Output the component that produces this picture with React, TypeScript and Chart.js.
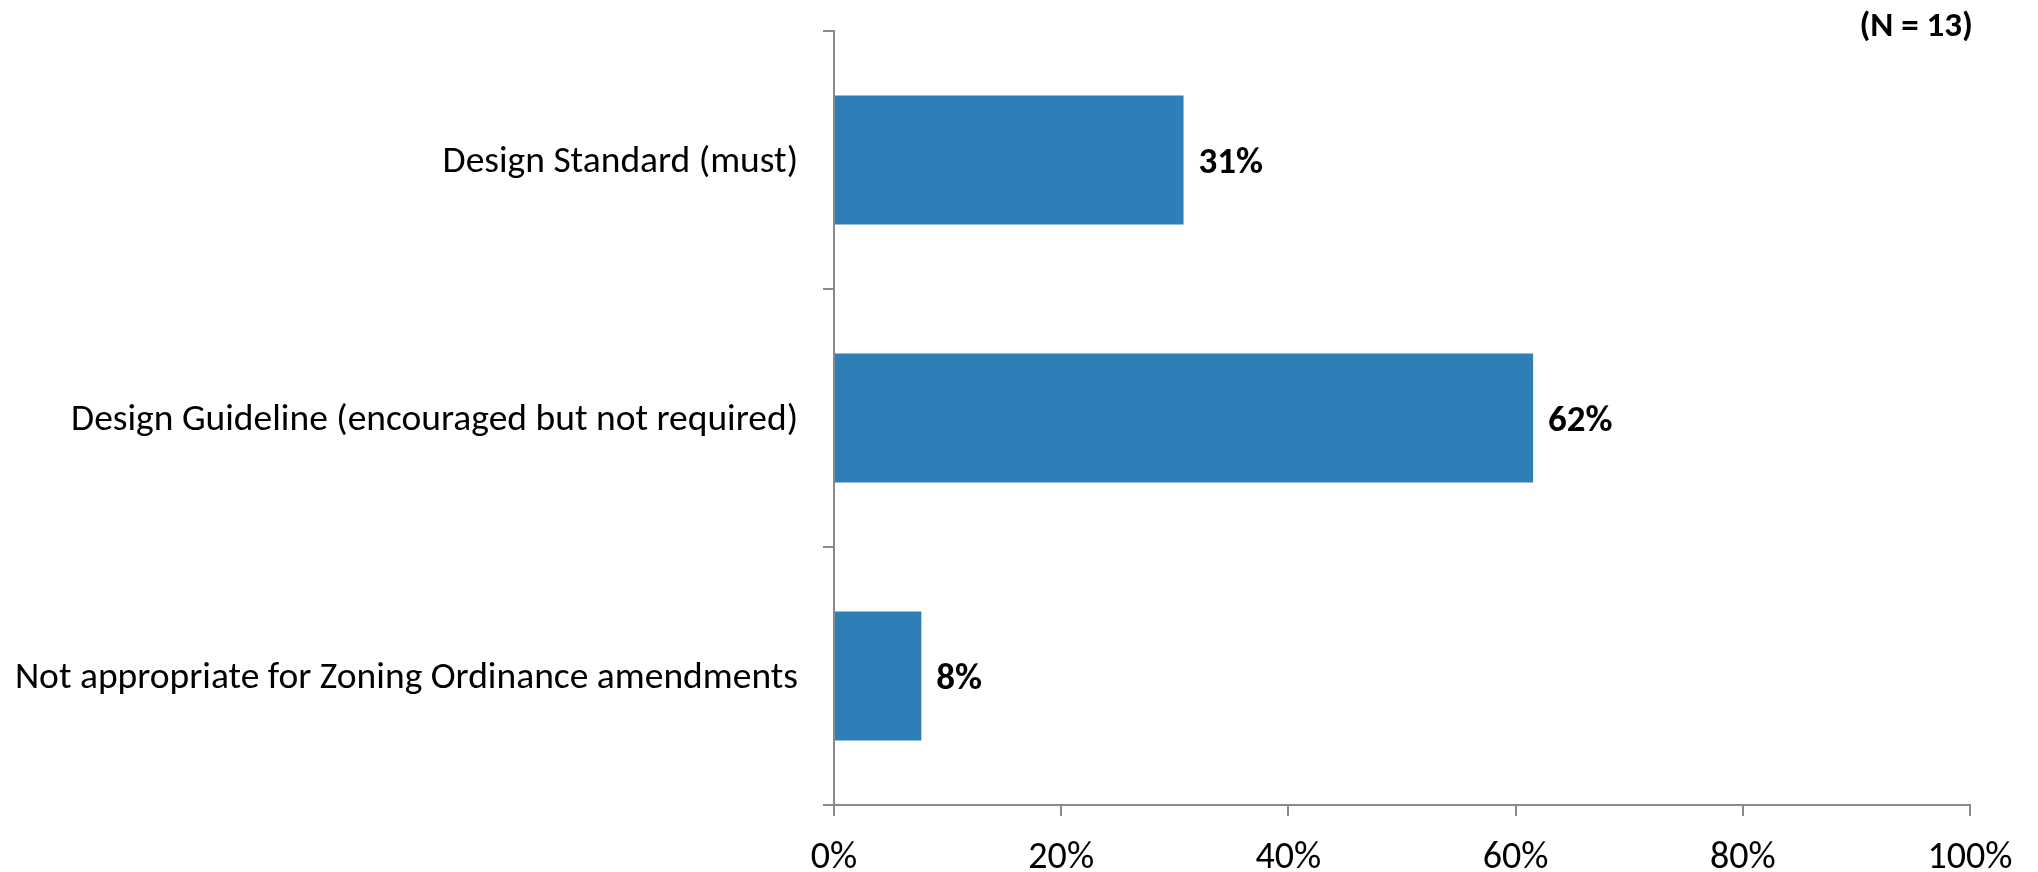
import React, { useEffect, useRef } from "react";
import { Chart, registerables } from "chart.js";

Chart.register(...registerables);

const categories = [
  "Design Standard (must)",
  "Design Guideline (encouraged but not required)",
  "Not appropriate for Zoning Ordinance amendments",
];
const values = [30.77, 61.54, 7.69];
const xTicks = [0, 20, 40, 60, 80, 100];
const noteText = "(N = 13)";

const FONT = "Carlito, Calibri, Lato, 'Open Sans', sans-serif";
const AXIS_COLOR = "#8a8a8a";
const BAR_COLOR = "#2E7EB8";

const labelPlugin = {
  id: "valueLabels",
  afterDatasetsDraw(chart: any) {
    const ctx = chart.ctx;
    const meta = chart.getDatasetMeta(0);
    ctx.save();
    ctx.fillStyle = "#000";
    ctx.font = `bold 37px ${FONT}`;
    ctx.textAlign = "left";
    ctx.textBaseline = "middle";
    meta.data.forEach((el: any, i: number) => {
      ctx.fillText(`${Math.round(values[i])}%`, el.x + 15, el.y + 4);
    });
    ctx.font = `bold 35px ${FONT}`;
    ctx.textAlign = "right";
    ctx.textBaseline = "middle";
    ctx.fillText(noteText, chart.chartArea.right + 3, 27);
    ctx.restore();
  },
};

export default function App() {
  const ref = useRef<HTMLCanvasElement | null>(null);
  useEffect(() => {
    if (!ref.current) return;
    const chart = new Chart(ref.current, {
      type: "bar",
      data: {
        labels: categories,
        datasets: [
          {
            data: values,
            backgroundColor: BAR_COLOR,
            borderWidth: 0,
            barPercentage: 0.5,
            categoryPercentage: 1,
          },
        ],
      },
      options: {
        indexAxis: "y",
        animation: false,
        responsive: false,
        maintainAspectRatio: false,
        layout: { padding: { top: 31, right: 68, left: 0, bottom: 0 } },
        plugins: {
          legend: { display: false },
          tooltip: { enabled: false },
          title: { display: false },
        },
        scales: {
          x: {
            min: 0,
            max: 100,
            afterFit: (s: any) => {
              s.height = 67;
              s.paddingLeft = 0;
              s.paddingRight = 0;
            },
            afterBuildTicks: (s: any) => {
              s.ticks = xTicks.map((v) => ({ value: v }));
            },
            ticks: {
              color: "#000",
              font: { size: 38, family: FONT },
              padding: 20,
              callback: (v: any) => `${v}%`,
            },
            grid: {
              drawOnChartArea: false,
              drawTicks: true,
              tickLength: 11,
              color: AXIS_COLOR,
              lineWidth: 2,
            },
            border: { display: true, color: AXIS_COLOR, width: 2 },
          },
          y: {
            afterFit: (s: any) => {
              s.width = 834;
              s.paddingTop = 0;
              s.paddingBottom = 0;
            },
            ticks: {
              color: "#000",
              font: { size: 37.5, family: FONT },
              padding: 25,
              labelOffset: 3,
            },
            grid: {
              offset: true,
              drawOnChartArea: false,
              drawTicks: true,
              tickLength: 11,
              color: AXIS_COLOR,
              lineWidth: 2,
            },
            border: { display: true, color: AXIS_COLOR, width: 2 },
          },
        },
      },
      plugins: [labelPlugin],
    });
    return () => chart.destroy();
  }, []);
  return (
    <div style={{ position: "absolute", left: 0, top: 0, width: 2038, height: 872, background: "#fff" }}>
      <canvas ref={ref} width={2038} height={872} style={{ width: 2038, height: 872 }} />
    </div>
  );
}
